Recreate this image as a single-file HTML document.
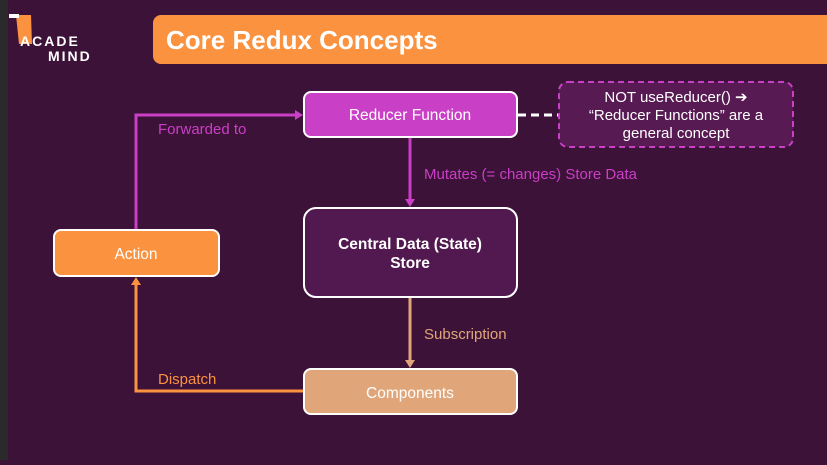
<!DOCTYPE html>
<html><head><meta charset="utf-8"><style>
body{margin:0;width:827px;height:460px;overflow:hidden;background:#3d1238;font-family:"Liberation Sans",sans-serif}
</style></head><body>
<svg width="827" height="460" xmlns="http://www.w3.org/2000/svg" font-family="Liberation Sans, sans-serif">
<rect x="0" y="0" width="827" height="460" fill="#3d1238"/>
<rect x="0" y="0" width="8" height="460" fill="#2a2a2a"/>
<!-- logo -->
<path d="M16 15 L31 15 L32 44 L19 44 Z" fill="#fa923f"/>
<rect x="9" y="14" width="10" height="4" fill="#fff"/>
<text x="20" y="46" fill="#fff" font-size="14" font-weight="bold" letter-spacing="2">ACADE</text>
<text x="48" y="61" fill="#fff" font-size="14" font-weight="bold" letter-spacing="2">MIND</text>
<!-- title -->
<rect x="153" y="15" width="690" height="49" rx="8" fill="#fa923f"/>
<text x="166" y="49" fill="#fff" font-size="26" font-weight="bold">Core Redux Concepts</text>
<!-- connectors -->
<g fill="none" stroke-width="3">
<path d="M136 229 V115 H297" stroke="#c93fc5"/>
<path d="M410 138 V201" stroke="#c93fc5"/>
<path d="M410 298 V362" stroke="#e0a67a"/>
<path d="M303 391 H136 V283" stroke="#fa923f"/>
<path d="M518 115 H558" stroke="#fff" stroke-dasharray="8,5"/>
</g>
<polygon points="303,115 295,110 295,120" fill="#c93fc5"/>
<polygon points="410,207 405,199 415,199" fill="#c93fc5"/>
<polygon points="410,368 405,360 415,360" fill="#e0a67a"/>
<polygon points="136,277 131,285 141,285" fill="#fa923f"/>
<!-- labels -->
<text x="158" y="134" fill="#c93fc5" font-size="15">Forwarded to</text>
<text x="424" y="179" fill="#c93fc5" font-size="15">Mutates (= changes) Store Data</text>
<text x="424" y="339" fill="#e0a67a" font-size="15">Subscription</text>
<text x="158" y="384" fill="#fa923f" font-size="15">Dispatch</text>
<!-- boxes -->
<rect x="304" y="92" width="213" height="45" rx="7" fill="#c93fc5" stroke="#fff" stroke-width="2"/>
<text x="410" y="120" fill="#fff" font-size="15.5" text-anchor="middle">Reducer Function</text>
<rect x="559" y="82" width="234" height="65" rx="9" fill="#581a53" stroke="#c93fc5" stroke-width="2" stroke-dasharray="6,4"/>
<text x="676" y="102" fill="#fff" font-size="15" text-anchor="middle">NOT useReducer() ➔</text>
<text x="676" y="120" fill="#fff" font-size="15" text-anchor="middle">“Reducer Functions” are a</text>
<text x="676" y="138" fill="#fff" font-size="15" text-anchor="middle">general concept</text>
<rect x="304" y="208" width="213" height="89" rx="12" fill="#521850" stroke="#fff" stroke-width="2"/>
<text x="410" y="249" fill="#fff" font-size="15.5" font-weight="bold" text-anchor="middle">Central Data (State)</text>
<text x="410" y="268" fill="#fff" font-size="15.5" font-weight="bold" text-anchor="middle">Store</text>
<rect x="54" y="230" width="165" height="46" rx="7" fill="#fa923f" stroke="#fff" stroke-width="2"/>
<text x="136" y="259" fill="#fff" font-size="15.5" text-anchor="middle">Action</text>
<rect x="304" y="369" width="213" height="45" rx="7" fill="#e0a67a" stroke="#fff" stroke-width="2"/>
<text x="410" y="398" fill="#fff" font-size="15.5" text-anchor="middle">Components</text>
</svg>
</body></html>
